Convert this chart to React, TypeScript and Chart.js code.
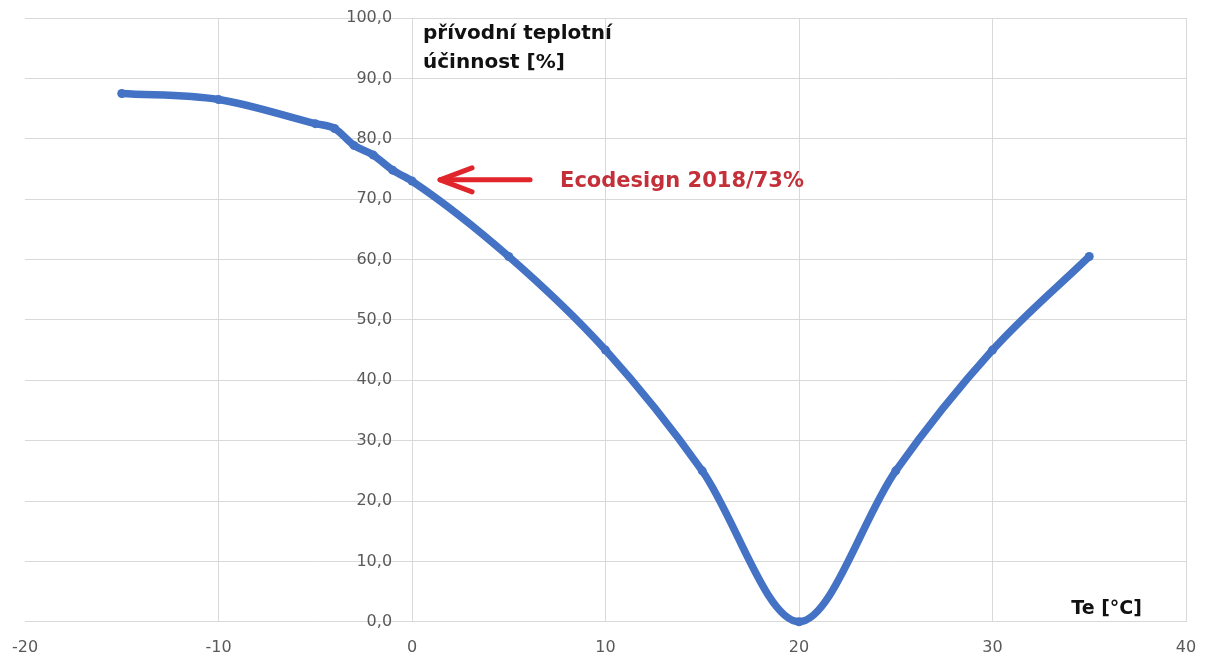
import React, { useEffect, useRef } from "react";
import { Chart, registerables } from "chart.js";

Chart.register(...registerables);

// ---- data ----
const temperatures = [-15, -10, -5, -4, -3, -2, -1, 0, 5, 10, 15, 20, 25, 30, 35];
const efficiency = [87.5, 86.5, 82.5, 81.7, 78.9, 77.3, 74.8, 73.0, 60.5, 45.0, 25.0, 0.0, 25.0, 45.0, 60.5];
const xTickValues = [-20, -10, 0, 10, 20, 30, 40];
const yTickValues = [0, 10, 20, 30, 40, 50, 60, 70, 80, 90, 100];
const yTitleLines = ["přívodní teplotní", "účinnost [%]"];
const xTitle = "Te [°C]";
const ecodesignLabel = "Ecodesign 2018/73%";
const ecodesignValue = [1.45, 73.2]; // arrow tip (temperature, efficiency)
const yLabelAnchor = -1.03; // temperature where the y tick labels end

const FONT = '"DejaVu Sans", "Open Sans", sans-serif';

const annotationPlugin = {
  id: "customAnnotations",
  afterDatasetsDraw(chart: any) {
    const { ctx, chartArea } = chart;
    const xs = chart.scales.x;
    const ys = chart.scales.y;
    const x0 = xs.getPixelForValue(0);
    ctx.save();
    // y axis title
    ctx.fillStyle = "#111111";
    ctx.textAlign = "left";
    ctx.textBaseline = "alphabetic";
    ctx.font = `bold 20px ${FONT}`;
    ctx.fillText(yTitleLines[0], x0 + 11, chartArea.top + 21);
    ctx.fillText(yTitleLines[1], x0 + 11, chartArea.top + 50);
    // x axis title
    ctx.textAlign = "right";
    ctx.font = `bold 19px ${FONT}`;
    ctx.fillText(xTitle, chartArea.right - 44, chartArea.bottom - 8);
    // arrow
    const tipX = xs.getPixelForValue(ecodesignValue[0]);
    const tipY = ys.getPixelForValue(ecodesignValue[1]);
    ctx.strokeStyle = "#E1262B";
    ctx.lineWidth = 5;
    ctx.lineCap = "round";
    ctx.lineJoin = "round";
    ctx.beginPath();
    ctx.moveTo(tipX + 90, tipY);
    ctx.lineTo(tipX, tipY);
    ctx.stroke();
    ctx.beginPath();
    ctx.moveTo(tipX + 32, tipY - 12);
    ctx.lineTo(tipX, tipY);
    ctx.lineTo(tipX + 32, tipY + 12);
    ctx.stroke();
    // label
    ctx.fillStyle = "#C4303A";
    ctx.textAlign = "left";
    ctx.font = `bold 21px ${FONT}`;
    ctx.fillText(ecodesignLabel, tipX + 120, tipY + 7);
    ctx.restore();
  },
};

const zeroPadding = (scale: any) => {
  scale.paddingLeft = 0;
  scale.paddingRight = 0;
  scale.paddingTop = 0;
  scale.paddingBottom = 0;
};

export default function App() {
  const canvasRef = useRef<HTMLCanvasElement | null>(null);

  useEffect(() => {
    document.body.style.margin = "0";
    const canvas = canvasRef.current;
    if (!canvas) return;
    const points = temperatures.map((t, i) => ({ x: t, y: efficiency[i] }));
    const gridColor = "#D9D9D9";
    const chart = new Chart(canvas, {
      type: "line",
      data: {
        datasets: [
          {
            data: points,
            borderColor: "#4472C4",
            backgroundColor: "#4472C4",
            borderWidth: 7.5,
            pointRadius: 4.5,
            pointBackgroundColor: "#4472C4",
            pointBorderColor: "#4472C4",
            pointBorderWidth: 0,
            cubicInterpolationMode: "monotone",
            clip: false as any,
          },
        ],
      },
      options: {
        responsive: false,
        animation: false,
        layout: { padding: { left: 25, right: 21, top: 18, bottom: -14 } },
        plugins: {
          legend: { display: false },
          tooltip: { enabled: false },
          title: { display: false },
        },
        scales: {
          x: {
            type: "linear",
            min: xTickValues[0],
            max: xTickValues[xTickValues.length - 1],
            afterBuildTicks: (scale: any) => {
              scale.ticks = xTickValues.map((v) => ({ value: v }));
            },
            afterFit: zeroPadding,
            ticks: {
              padding: 16,
              color: "#595959",
              font: { family: FONT, size: 16 },
              callback: (v: any) => String(v),
            },
            grid: {
              drawTicks: false,
              color: (c: any) => (c.tick && c.tick.value === xTickValues[0] ? "rgba(0,0,0,0)" : gridColor),
              lineWidth: 1,
            },
            border: { display: true, color: gridColor },
          },
          y: {
            type: "linear",
            position: { x: yLabelAnchor } as any,
            min: yTickValues[0],
            max: yTickValues[yTickValues.length - 1],
            afterBuildTicks: (scale: any) => {
              scale.ticks = yTickValues.map((v) => ({ value: v }));
            },
            afterFit: zeroPadding,
            ticks: {
              padding: 0,
              color: "#595959",
              font: { family: FONT, size: 16 },
              callback: (v: any) => Number(v).toFixed(1).replace(".", ","),
            },
            grid: { drawTicks: false, color: gridColor, lineWidth: 1 },
            border: { display: false },
          },
        },
      },
      plugins: [annotationPlugin],
    });
    return () => chart.destroy();
  }, []);

  return (
    <div style={{ width: 1207, height: 659, background: "#ffffff" }}>
      <canvas ref={canvasRef} width={1207} height={659} />
    </div>
  );
}
